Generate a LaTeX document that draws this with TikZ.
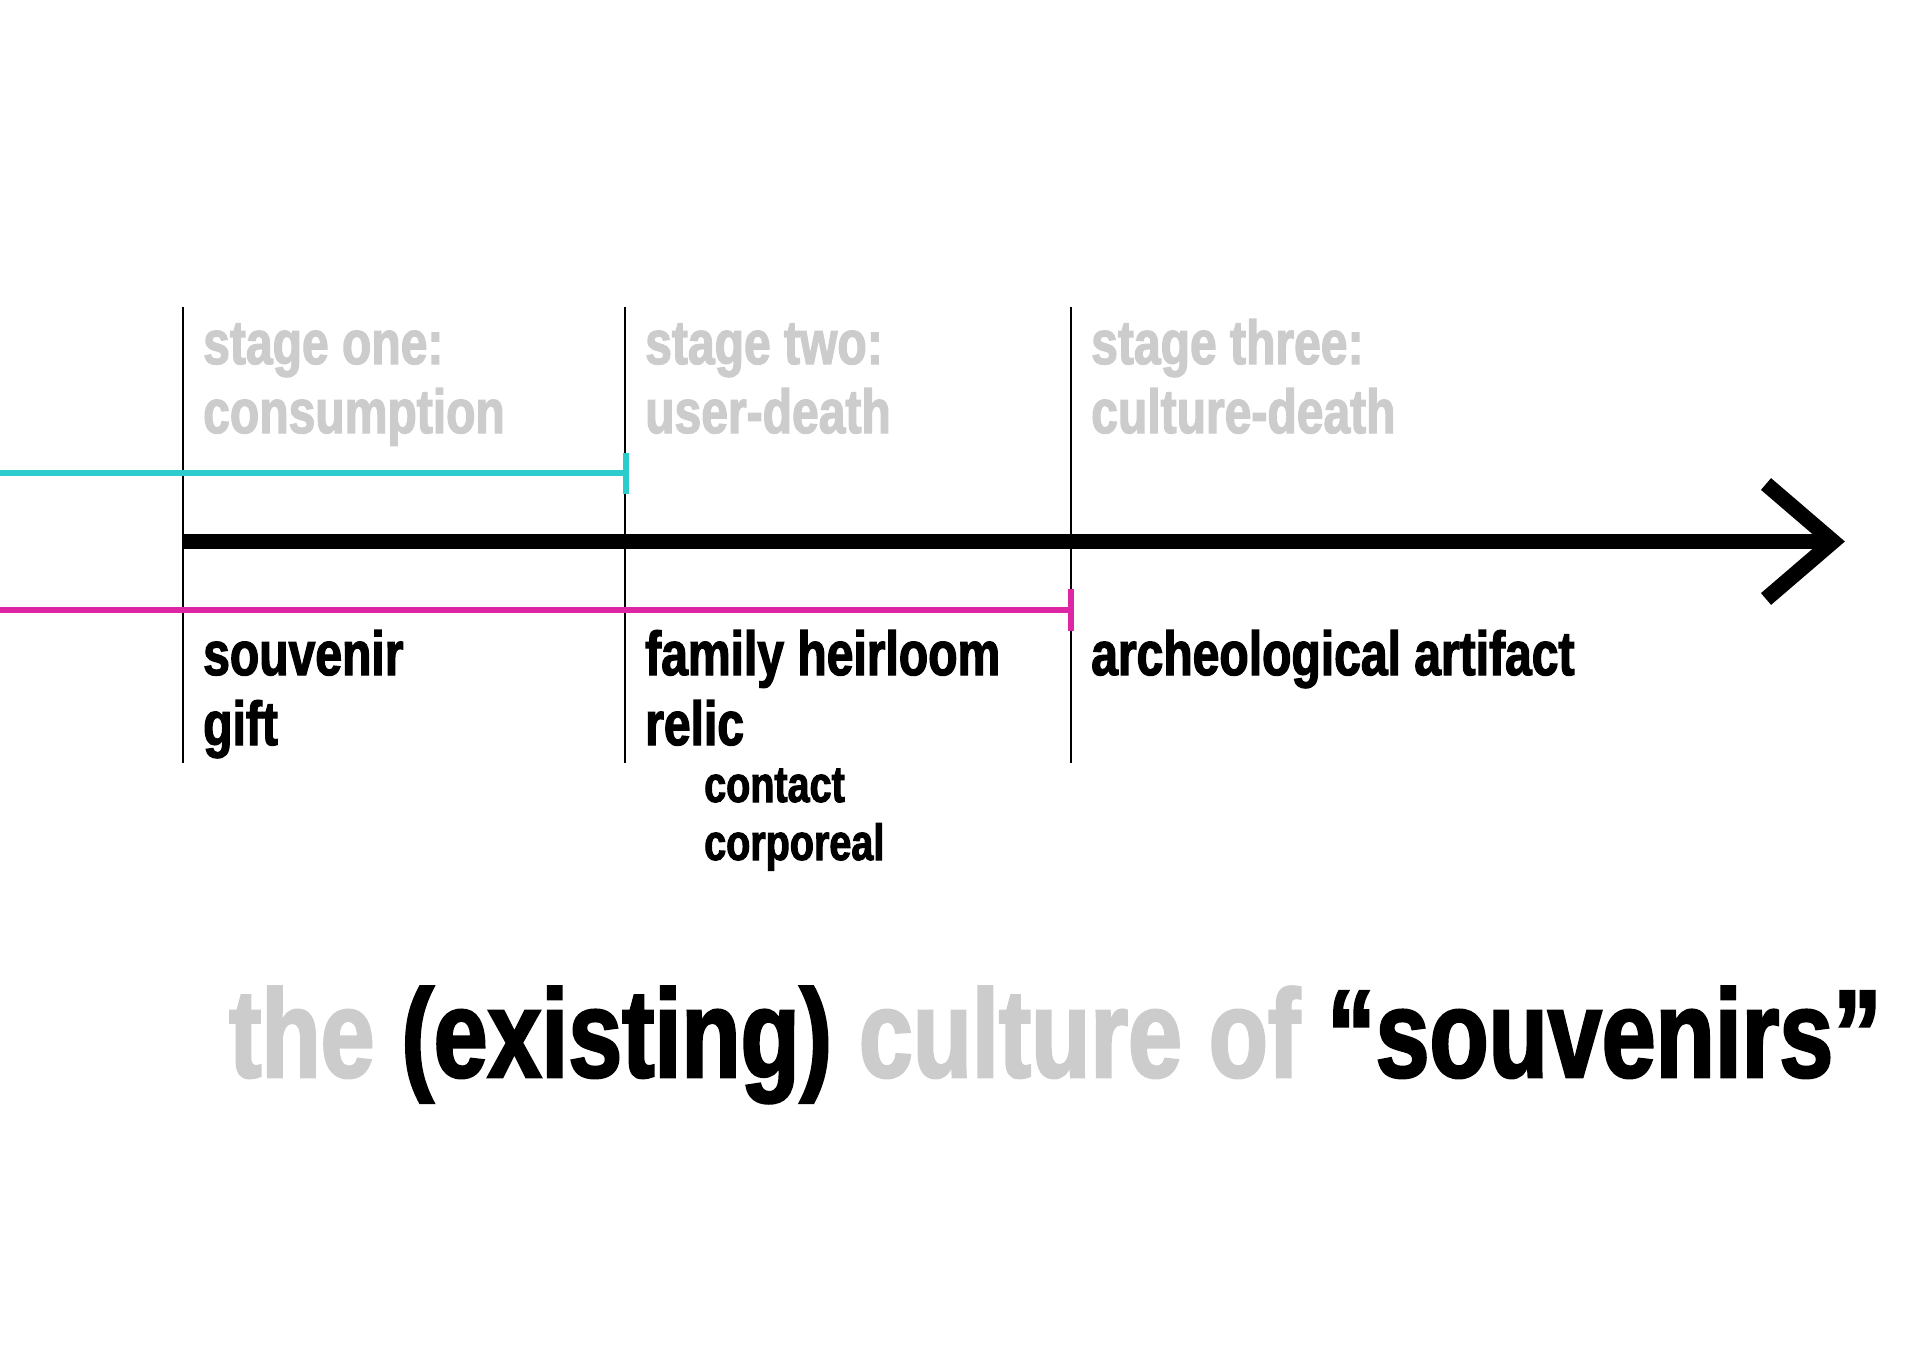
\documentclass[tikz,border=0pt]{standalone}
\usepackage{fontspec}
\newfontfamily\cond[FakeStretch=0.775,FakeBold=2]{Liberation Sans Bold}
\definecolor{tgray}{RGB}{204,204,204}
\definecolor{tcyan}{RGB}{44,204,204}
\definecolor{tmag}{RGB}{222,38,164}
\tikzset{
  lbl/.style={anchor=base west, inner sep=0pt, font=\cond\fontsize{62}{62}\selectfont},
  stagelbl/.style={lbl, text=tgray},
  itemlbl/.style={lbl, text=black},
  sublbl/.style={anchor=base west, inner sep=0pt, font=\cond\fontsize{51}{51}\selectfont},
  divider/.style={line width=1.5pt, black},
  spanline/.style={line width=6pt},
}
\begin{document}
\begin{tikzpicture}[x=1pt,y=-1pt]
\useasboundingbox (0,0) rectangle (1920,1358);
% dividers
\coordinate (d1t) at (183,307); \coordinate (d1b) at (183,763);
\coordinate (d2t) at (625,307); \coordinate (d2b) at (625,763);
\coordinate (d3t) at (1071,307); \coordinate (d3b) at (1071,763);
\draw[divider] (d1t) -- (d1b);
\draw[divider] (d2t) -- (d2b);
\draw[divider] (d3t) -- (d3b);
% cyan span
\coordinate (cs) at (0,473); \coordinate (ce) at (625.5,473);
\coordinate (ct1) at (625.5,453); \coordinate (ct2) at (625.5,494);
\draw[spanline, tcyan] (cs) -- (ce);
\draw[spanline, tcyan] (ct1) -- (ct2);
% magenta span
\coordinate (ms) at (0,610); \coordinate (me) at (1071,610);
\coordinate (mt1) at (1071,589); \coordinate (mt2) at (1071,631);
\draw[spanline, tmag] (ms) -- (me);
\draw[spanline, tmag] (mt1) -- (mt2);
% main arrow
\coordinate (as) at (183,541.5); \coordinate (tip) at (1833,541.5);
\coordinate (a1) at (1766,484); \coordinate (a2) at (1766,599);
\draw[line width=15.5pt] (as) -- (tip);
\draw[line width=15.5pt, miter limit=10] (a1) -- (tip) -- (a2);
% stage labels
\node[stagelbl] (s1a) at (203,364) {stage one:};
\node[stagelbl] (s1b) at (203,433) {consumption};
\node[stagelbl] (s2a) at (645,364) {stage two:};
\node[stagelbl] (s2b) at (645,433) {user-death};
\node[stagelbl] (s3a) at (1091,364) {stage three:};
\node[stagelbl] (s3b) at (1091,433) {culture-death};
% items
\node[itemlbl] (i1a) at (203,675) {souvenir};
\node[itemlbl] (i1b) at (203,745) {gift};
\node[itemlbl] (i2a) at (645,675) {family heirloom};
\node[itemlbl] (i2b) at (645,745) {relic};
\node[sublbl] (i2c) at (704,802) {contact};
\node[sublbl] (i2d) at (704,860) {corporeal};
\node[itemlbl] (i3a) at (1091,675) {archeological artifact};
% title
\node[anchor=base west, inner sep=0pt, font=\cond\fontsize{125}{125}\selectfont] (title) at (229,1077)
  {\textcolor{tgray}{the} (existing) \textcolor{tgray}{culture of} “souvenirs”};
\end{tikzpicture}
\end{document}
